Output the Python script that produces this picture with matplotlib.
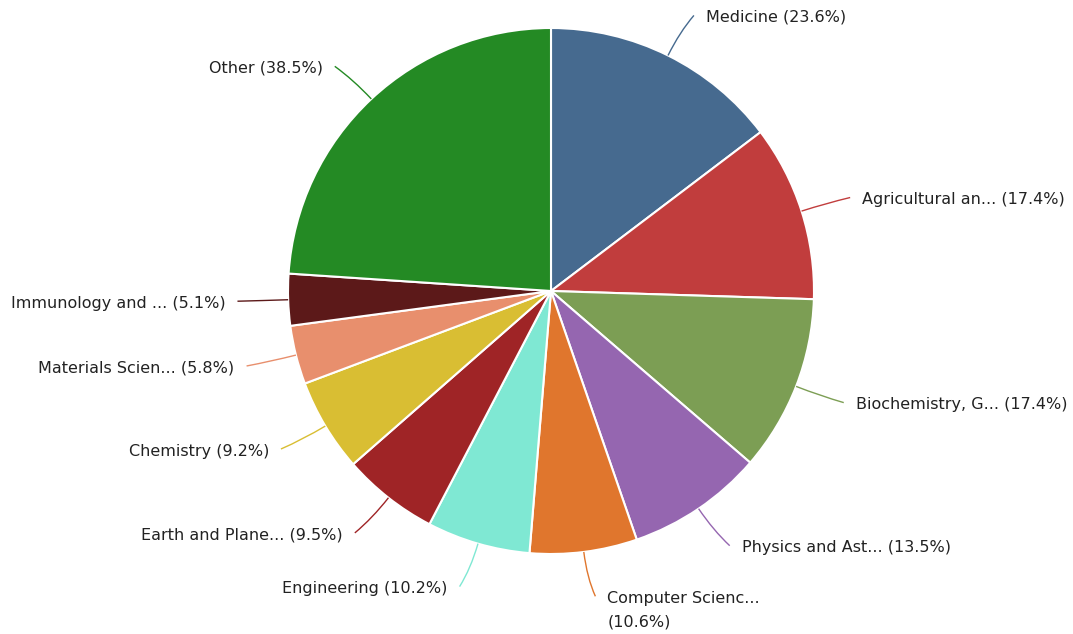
import numpy as np
import matplotlib
matplotlib.use("Agg")
import matplotlib.pyplot as plt
from matplotlib.path import Path
from matplotlib.patches import PathPatch

names = ["Medicine", "Agricultural an...", "Biochemistry, G...", "Physics and Ast...",
         "Computer Scienc...", "Engineering", "Earth and Plane...", "Chemistry",
         "Materials Scien...", "Immunology and ...", "Other"]
values = [23.6, 17.4, 17.4, 13.5, 10.6, 10.2, 9.5, 9.2, 5.8, 5.1, 38.5]
separators = [" ", " ", " ", " ", "\n", " ", " ", " ", " ", " ", " "]
colors = ["#466a8f", "#c13d3d", "#7c9e54", "#9566b0", "#e0762d", "#7fe8d3",
          "#9f2426", "#d9be33", "#e88f6d", "#5c1919", "#248a24"]

W, H = 1073, 634
fig = plt.figure(figsize=(W / 100, H / 100), dpi=100)
ax = fig.add_axes([0, 0, 1, 1])
ax.set_xlim(0, W)
ax.set_ylim(0, H)
ax.axis("off")

cx, cy, R = 551, 343, 263
wedges, _ = ax.pie(values, colors=colors, startangle=90, counterclock=False,
                   center=(cx, cy), radius=R,
                   wedgeprops=dict(edgecolor="white", linewidth=1.5))
ax.set_xlim(0, W)
ax.set_ylim(0, H)
ax.set_aspect("equal")

for w, name, val, sep, col in zip(wedges, names, values, separators, colors):
    mid = np.deg2rad((w.theta1 + w.theta2) / 2)
    c, s = np.cos(mid), np.sin(mid)
    sign = 1 if c >= 0 else -1
    p0 = (cx + R * c, cy + R * s)
    p1 = (cx + 1.1 * R * c, cy + 1.1 * R * s)
    p2 = (cx + 1.17 * R * c + sign * 6, cy + 1.17 * R * s)
    path = Path([p0, p1, p2], [Path.MOVETO, Path.CURVE3, Path.CURVE3])
    ax.add_patch(PathPatch(path, facecolor="none", edgecolor=col, linewidth=1.0))
    label = f"{name}{sep}({val}%)"
    tx = p2[0] + sign * 12
    if "\n" in label:
        ax.text(tx, p2[1] + 5, label, ha="left" if sign > 0 else "right", va="top",
                fontsize=11.5, color="#222222", family="DejaVu Sans", linespacing=1.65)
    else:
        ax.text(tx, p2[1] - 2, label, ha="left" if sign > 0 else "right", va="center",
                fontsize=11.5, color="#222222", family="DejaVu Sans")

fig.savefig("out.png", dpi=100)
